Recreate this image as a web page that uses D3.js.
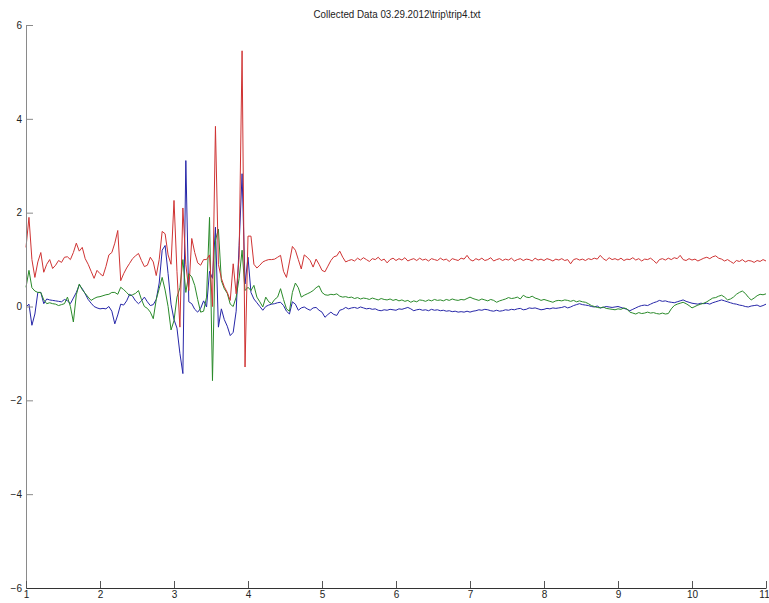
<!DOCTYPE html>
<html>
<head>
<meta charset="utf-8">
<script src="https://cdnjs.cloudflare.com/ajax/libs/d3/7.8.5/d3.min.js"></script>
<style>
  body { margin: 0; background: #fff; overflow: hidden; }
  svg text { font-family: "Liberation Sans", Arial, sans-serif; fill: #222; }
</style>
</head>
<body>
<div id="chart"></div>
<script>
// sampled trip data, one value every 0.04 from t=1 to t=11
var sampleStart = 1,
  sampleStep = 0.04;

var redSeries = [
  1.26, 1.9, 1.0, 0.62, 0.95, 1.15, 0.73, 0.9, 1.0, 0.81,
  0.88, 0.98, 0.94, 1.05, 1.06, 1.0, 1.15, 1.35, 1.18, 1.26,
  1.02, 0.9, 0.75, 0.6, 0.77, 0.7, 0.65, 0.85, 1.1, 1.15,
  1.35, 1.62, 0.55, 0.7, 0.82, 0.92, 1.02, 1.08, 1.13, 0.98,
  0.85, 0.88, 1.05, 0.95, 0.66, 1.0, 1.6, 1.55, 1.1, 0.9,
  2.26, 0.75, -0.44, 2.1, 0.9, 0.34, 1.45, 1.15, 0.93, 0.88,
  1.0, 1.0, 1.1, 0.0, 3.84, 0.9, 0.6, 0.42, 0.3, 0.13,
  0.91, 0.27, 1.05, 5.45, -1.29, 1.5, 1.5, 0.9, 0.82, 0.88,
  0.95, 0.98, 1.0, 1.0, 1.01, 1.05, 1.09, 0.75, 0.62, 0.95,
  1.28, 1.2, 1.0, 0.8, 1.1, 1.05, 0.98, 0.84, 1.01, 0.9,
  0.77, 0.74, 0.86, 0.98, 1.06, 1.08, 1.18, 1.05, 0.95, 0.98,
  1.0, 0.97, 1.03, 0.99, 1.04, 1.0, 0.96, 1.02, 1.0, 1.05,
  0.98, 1.01, 0.93, 1.0, 1.03, 0.98, 1.02, 0.99, 1.04, 0.97,
  1.0, 1.02, 0.98, 1.03, 0.99, 1.01, 0.97, 1.02, 1.0, 0.98,
  1.03, 0.99, 1.01, 0.96, 1.02, 1.0, 0.98, 1.03, 1.01, 1.09,
  1.0, 0.97, 1.02, 0.99, 1.03, 0.98, 1.0, 1.04, 0.97, 1.0,
  1.02, 0.98, 1.01, 0.99, 1.03, 0.97, 1.0, 1.02, 0.98, 1.01,
  1.0, 0.97, 1.03, 0.99, 1.01, 0.98, 1.02, 1.0, 0.97, 1.01,
  0.99, 1.02, 0.98, 1.0, 0.91, 1.0, 1.02, 0.99, 1.01, 0.98,
  1.02, 1.0, 1.03, 1.01, 1.09, 1.02, 0.98, 1.04, 1.0, 1.02,
  0.99, 1.03, 0.98, 1.01, 1.0, 1.04, 0.99, 1.02, 0.97, 1.01,
  1.0, 1.03, 0.98, 0.92, 1.0, 1.02, 0.99, 1.03, 1.0, 1.04,
  1.02, 1.09, 1.0, 0.98, 1.02, 0.99, 1.01, 0.97, 1.0, 1.03,
  1.05, 1.02, 1.06, 1.08, 1.03, 1.01, 0.97, 1.0, 0.96, 0.92,
  0.98, 0.96, 1.0, 0.95, 0.98, 0.97, 0.94, 0.98, 0.96, 1.0, 0.97
];

var greenSeries = [
  0.41, 0.77, 0.4, 0.33, 0.3, 0.3, 0.14, 0.06, 0.08, 0.06,
  0.05, 0.02, 0.04, 0.06, 0.2, 0.0, -0.33, 0.25, 0.48, 0.36,
  0.28, 0.2, 0.13, 0.17, 0.2, 0.21, 0.23, 0.25, 0.26, 0.3,
  0.3, 0.26, 0.41, 0.36, 0.3, 0.23, 0.25, 0.28, 0.34, 0.15,
  0.0, -0.04, -0.12, -0.26, 0.15, 0.38, 0.62, 0.35, 0.0, -0.5,
  -0.3, 0.2, 0.4, 1.0, 0.3, 0.7, 0.63, 0.45, 0.15, -0.12,
  -0.1, 0.2, 1.9, -1.58, 1.41, 1.65, 0.55, 0.38, 0.28, 0.05,
  0.0, 0.2, 0.6, 1.2, 0.34, 0.41, 0.34, 0.45, 0.2, 0.1,
  -0.01, 0.2, 0.1, 0.06, 0.15, 0.2, 0.38, 0.15, -0.05, -0.1,
  0.3, 0.5, 0.4, 0.2, 0.24, 0.27, 0.3, 0.34, 0.4, 0.44,
  0.3, 0.25, 0.24, 0.26, 0.25, 0.27, 0.22, 0.2, 0.21, 0.19,
  0.2, 0.17, 0.19, 0.16, 0.18, 0.17, 0.15, 0.18, 0.16, 0.14,
  0.17, 0.15, 0.14, 0.16, 0.13, 0.15, 0.12, 0.14, 0.11, 0.13,
  0.09, 0.12, 0.1, 0.14, 0.13, 0.11, 0.14, 0.12, 0.15, 0.13,
  0.14, 0.12, 0.15, 0.13, 0.16, 0.14, 0.13, 0.15, 0.14, 0.17,
  0.2, 0.17, 0.15, 0.13, 0.16, 0.14, 0.12, 0.15, 0.13, 0.09,
  0.12, 0.14, 0.16, 0.19, 0.17, 0.18, 0.2, 0.16, 0.24, 0.2,
  0.19, 0.22, 0.18, 0.16, 0.13, 0.15, 0.13, 0.11, 0.09, 0.12,
  0.13, 0.12, 0.14, 0.13, 0.11, 0.13, 0.1, 0.12, 0.1, 0.09,
  0.06, 0.02, 0.0, -0.02, -0.03, -0.01, -0.04, -0.05, -0.06, -0.07,
  -0.05, -0.06, -0.03, -0.05, -0.12, -0.14, -0.16, -0.13, -0.15, -0.14,
  -0.12, -0.14, -0.13, -0.15, -0.16, -0.14, -0.16, -0.15, -0.05, 0.02,
  0.05, 0.07, 0.09, 0.06, 0.02, -0.03, 0.0, 0.03, 0.05, 0.07,
  0.1, 0.14, 0.18, 0.19, 0.22, 0.24, 0.2, 0.14, 0.16, 0.2,
  0.26, 0.3, 0.33, 0.28, 0.2, 0.14, 0.18, 0.23, 0.26, 0.25, 0.27
];

var blueSeries = [
  -0.01, 0.05, -0.4, -0.16, 0.3, 0.3, 0.06, 0.16, 0.14, 0.13,
  0.12, 0.11, 0.1, 0.15, 0.12, 0.06, 0.18, 0.3, 0.46, 0.38,
  0.27, 0.15, 0.07, 0.0, -0.03, -0.05, -0.04, -0.05, 0.0, -0.1,
  -0.37, -0.18, 0.05, 0.03, 0.12, 0.26, 0.22, 0.12, 0.06, 0.12,
  0.2, 0.1, 0.02, 0.04, 0.15, 0.5, 1.2, 1.3, 0.7, 0.05,
  -0.28, -0.46, -1.0, -1.43, 3.11, 0.1, 0.06, -0.06, -0.12, -0.04,
  0.12, -0.01, 0.75, 0.6, 1.69, -0.44, -0.05, -0.28, -0.42, -0.62,
  -0.55, -0.1, 1.3, 2.83, 0.48, 1.05, 0.3, 0.16, 0.08, 0.0,
  -0.08, 0.0, 0.03, 0.05, 0.06, 0.08, 0.09, 0.02, -0.1, -0.16,
  0.1, 0.05, -0.08, -0.03, -0.01, -0.05, -0.08, -0.03, -0.02, -0.08,
  -0.12, -0.23, -0.17, -0.12, -0.17, -0.19, -0.08, -0.06, -0.02, -0.05,
  -0.03, -0.02, -0.04, -0.01, -0.03, -0.05, -0.04, -0.06, -0.05, -0.08,
  -0.09, -0.07, -0.08, -0.06, -0.07, -0.08, -0.05, -0.06, -0.04, -0.02,
  -0.05, -0.09, -0.07, -0.06, -0.08, -0.07, -0.09, -0.06, -0.08, -0.07,
  -0.09, -0.08, -0.1, -0.09, -0.11, -0.1, -0.12, -0.11, -0.12, -0.1,
  -0.12, -0.1, -0.09, -0.07, -0.08, -0.06, -0.07, -0.09, -0.1, -0.08,
  -0.1, -0.09, -0.07, -0.08, -0.06, -0.07, -0.05, -0.04, -0.07, -0.06,
  -0.03, -0.04, -0.03, -0.05, -0.07, -0.06, -0.04, -0.05, -0.03, -0.04,
  -0.03, -0.02, 0.0, -0.03, -0.01, 0.02, 0.04, 0.06, 0.04, 0.03,
  0.02, 0.0, -0.01, 0.01, -0.03, -0.02, 0.0, -0.01, -0.02, -0.01,
  0.0, -0.02, -0.04, -0.06, -0.09, -0.06, -0.03, 0.0, 0.02, 0.03,
  0.02, 0.05, 0.08, 0.1, 0.13, 0.11, 0.12, 0.1, 0.09, 0.08,
  0.1, 0.12, 0.14, 0.11, 0.09, 0.07, 0.06, 0.05, 0.07, 0.06,
  0.07, 0.05, 0.08, 0.1, 0.12, 0.14, 0.12, 0.1, 0.08, 0.06,
  0.05, 0.03, 0.02, 0.0, -0.01, 0.01, 0.02, 0.03, 0.0, 0.02, 0.05
];

var xTicks = [1, 2, 3, 4, 5, 6, 7, 8, 9, 10, 11];
var yTicks = [-6, -4, -2, 0, 2, 4, 6];
var title = "Collected Data 03.29.2012\\trip\\trip4.txt";

var width = 769,
  height = 603,
  plotLeft = 26,
  plotRight = 766,
  plotTop = 25,
  plotBottom = 588;

var svg = d3
  .select("#chart")
  .append("svg")
  .attr("width", width)
  .attr("height", height);

var x = d3.scaleLinear().domain([1, 11]).range([plotLeft, plotRight]);
var y = d3.scaleLinear().domain([-6, 6]).range([plotBottom, plotTop]);

function timeAt(i) {
  return sampleStart + i * sampleStep;
}

var line = d3
  .line()
  .x(function (d, i) {
    return x(timeAt(i));
  })
  .y(function (d) {
    return y(d);
  });

// matlab draws them blue, green, red
var series = [
  { values: blueSeries, color: "#2626a8" },
  { values: greenSeries, color: "#2a8a2a" },
  { values: redSeries, color: "#cf3333" },
];

series.forEach(function (s) {
  svg
    .append("path")
    .datum(s.values)
    .attr("d", line)
    .attr("fill", "none")
    .attr("stroke", s.color)
    .attr("stroke-width", 1);
});

var yAxis = svg
  .append("g")
  .attr("transform", "translate(" + plotLeft + ",0)")
  .call(
    d3.axisLeft(y).tickValues(yTicks).tickSizeInner(-7).tickSizeOuter(0).tickPadding(4)
  );
yAxis.select(".domain").attr("stroke", "#8a8a8a");
yAxis.selectAll(".tick line").attr("stroke", "#8a8a8a");

var xAxis = svg
  .append("g")
  .attr("transform", "translate(0," + plotBottom + ")")
  .call(
    d3.axisBottom(x).tickValues(xTicks).tickSizeInner(-7).tickSizeOuter(0).tickPadding(3)
  );
xAxis.select(".domain").attr("stroke", "#333");
xAxis.selectAll(".tick line").attr("stroke", "#555");

svg.selectAll(".tick text").attr("font-size", 10).attr("fill", "#222");

// keep "11" inside the window
xAxis
  .selectAll(".tick text")
  .filter(function (d) {
    return d === 11;
  })
  .attr("dx", -2);

svg
  .append("text")
  .attr("x", 397)
  .attr("y", 18)
  .attr("text-anchor", "middle")
  .attr("font-size", 10)
  .attr("textLength", 167)
  .attr("lengthAdjust", "spacingAndGlyphs")
  .text(title);
</script>
</body>
</html>
